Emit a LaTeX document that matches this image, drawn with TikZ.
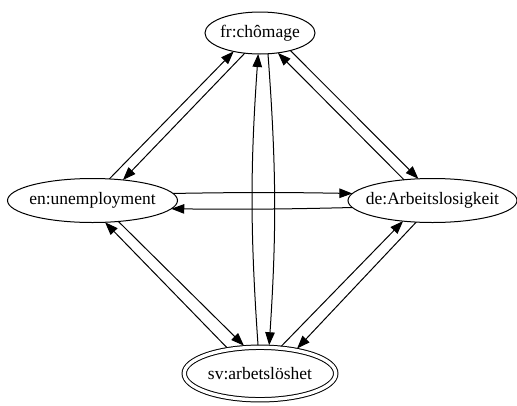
\documentclass[tikz,border=0pt]{standalone}
\usepackage{fontspec}
\setmainfont{Liberation Serif}
\usetikzlibrary{arrows.meta,shapes.geometric}
\begin{document}
\begin{tikzpicture}[x=1pt,y=-1pt,
  term/.style={ellipse,draw,line width=1pt,inner sep=0pt,outer sep=0pt,
    font=\fontsize{17.5}{20}\selectfont},
  goal/.style={term,double,double distance=3.4pt,outer sep=2.2pt},
  link/.style={line width=1pt,-{Triangle[length=13pt,width=9.5pt]}}]
\useasboundingbox (0,0) rectangle (517,405);
% the four terms
\node[term,minimum width=110pt,minimum height=42pt] (fr) at (260,33) {\makebox[0pt]{fr:chômage}};
\node[term,minimum width=170pt,minimum height=44pt] (en) at (92.5,200.5) {\makebox[0pt]{en:unemployment}};
\node[term,minimum width=169pt,minimum height=44pt] (de) at (432.5,200.5) {\makebox[0pt]{de:Arbeitslosigkeit}};
\node[goal,minimum width=151.5pt,minimum height=52.5pt] (sv) at (260,373.5) {\makebox[0pt]{sv:arbetslöshet}};
% translations, one arrow per direction
\draw[link] (en.52) -- (fr.215);
\draw[link] (fr.233) -- (en.34);
\draw[link] (de.144) -- (fr.312);
\draw[link] (fr.330) -- (de.123.5);
\draw[link] (en.5.4) to[bend left=1] (de.175.3);
\draw[link] (de.185.7) to[bend left=1] (en.-6.1);
\draw[link] (sv.94) to[bend left=4] (fr.265);
\draw[link] (fr.291) to[bend left=4] (sv.72);
\draw[link] (en.-39) -- (sv.120.5);
\draw[link] (sv.142) -- (en.-60);
\draw[link] (sv.52) -- (de.215);
\draw[link] (de.233) -- (sv.34.5);
\end{tikzpicture}
\end{document}
